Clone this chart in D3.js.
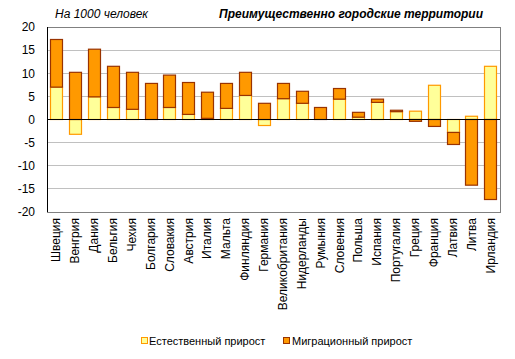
<!DOCTYPE html>
<html><head><meta charset="utf-8">
<script src="https://cdn.jsdelivr.net/npm/d3@7"></script>
<style>body{margin:0;background:#fff}svg{display:block;font-family:"Liberation Sans",Arial,sans-serif}</style>
</head><body>
<svg id="c" width="515" height="359"></svg>
<script>
const countries = ["Швеция","Венгрия","Дания","Бельгия","Чехия","Болгария","Словакия","Австрия","Италия","Мальта","Финляндия","Германия","Великобритания","Нидерланды","Румыния","Словения","Польша","Испания","Португалия","Греция","Франция","Латвия","Литва","Ирландия"];
const natural   = [7.0,-3.2,4.9,2.6,2.2,0.0,2.6,1.1,0.25,2.4,5.2,-1.3,4.5,3.5,0.0,4.4,0.5,3.7,1.7,1.8,7.4,-2.8,0.7,11.5];
const migration = [10.3,10.2,10.3,8.9,8.0,7.8,7.0,6.9,5.65,5.4,5.0,3.5,3.3,2.6,2.6,2.3,1.05,0.7,0.3,-0.4,-1.5,-2.6,-14.2,-17.3];
const yTicks = [-20,-15,-10,-5,0,5,10,15,20];
const seriesNames = ["Естественный прирост","Миграционный прирост"];

const svg = d3.select("#c");
const m = {l:47, r:500, t:27, b:212};
const x = d3.scaleBand().domain(countries).range([m.l, m.r]).paddingInner(0.34).paddingOuter(0.17);
const y = d3.scaleLinear().domain([-20,20]).range([m.b, m.t]);

// grid
svg.append("g").selectAll("line").data(yTicks.filter(t=>t!==0 && t!==20 && t!==-20)).join("line")
  .attr("x1",m.l).attr("x2",m.r).attr("y1",d=>y(d)).attr("y2",d=>y(d))
  .attr("stroke","#c0c0c0").attr("stroke-width",1).attr("shape-rendering","crispEdges");

// border
svg.append("rect").attr("x",m.l).attr("y",y(20)).attr("width",m.r-m.l).attr("height",y(-20)-y(20))
  .attr("fill","none").attr("stroke","#808080").attr("stroke-width",1).attr("shape-rendering","crispEdges");

const data = countries.map((c,i)=>({c, nat:natural[i], mig:migration[i]}));
const stack = d3.stack().keys(["nat","mig"]).offset(d3.stackOffsetDiverging);
const st = stack(data);
const fills = ["#FFFF99","#FF9900"], strokes = ["#FF9900","#993300"];

st.forEach((s,k)=>{
  svg.append("g").selectAll("rect").data(s).join("rect")
    .attr("x",d=>Math.round(x(d.data.c))+0.5)
    .attr("width",Math.round(x.bandwidth()))
    .attr("y",d=>y(Math.max(d[0],d[1])))
    .attr("height",d=>Math.abs(y(d[0])-y(d[1])))
    .attr("fill",fills[k]).attr("stroke",strokes[k]).attr("stroke-width",1.2);
});

// zero line and left axis
svg.append("line").attr("x1",m.l).attr("x2",m.r).attr("y1",y(0)).attr("y2",y(0))
  .attr("stroke","#000").attr("stroke-width",1.2);
svg.append("line").attr("x1",m.l+0.5).attr("x2",m.l+0.5).attr("y1",y(20)).attr("y2",y(-20))
  .attr("stroke","#000").attr("stroke-width",1);

// y tick labels
svg.append("g").selectAll("text").data(yTicks).join("text")
  .attr("x",35).attr("y",d=>y(d)).attr("dy","0.36em").attr("text-anchor","end")
  .attr("font-size",12).text(d=>d);

// x labels
svg.append("g").selectAll("text").data(countries).join("text")
  .attr("transform",d=>`translate(${x(d)+x.bandwidth()/2+4},218) rotate(-90)`)
  .attr("text-anchor","end").attr("font-size",12).text(d=>d);

// titles
svg.append("text").attr("x",55).attr("y",18).attr("font-size",12).attr("font-style","italic").text("На 1000 человек");
svg.append("text").attr("x",483).attr("y",18).attr("font-size",12).attr("font-style","italic").attr("font-weight","bold")
  .attr("text-anchor","end").text("Преимущественно городские территории");

// legend
const leg = [{x:141, tx:149},{x:283, tx:292}];
leg.forEach((l,i)=>{
  svg.append("rect").attr("x",l.x+0.5).attr("y",337.5).attr("width",6).attr("height",6)
    .attr("fill",fills[i]).attr("stroke",strokes[i]).attr("stroke-width",1);
  svg.append("text").attr("x",l.tx).attr("y",345).attr("font-size",11).text(seriesNames[i]);
});
</script>
</body></html>
